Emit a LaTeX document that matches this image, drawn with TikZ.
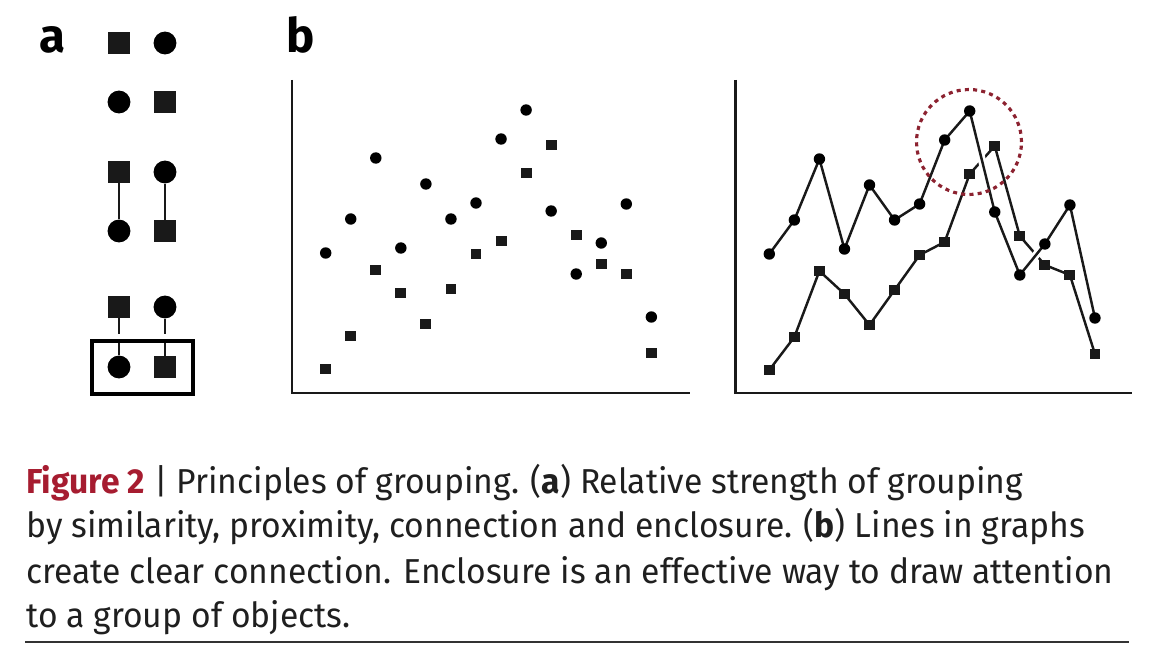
\documentclass[tikz,border=0pt]{standalone}
\usepackage{fontspec}
\setmainfont{Fira Sans}
\newfontfamily\capfont[FakeStretch=0.972]{Fira Sans}
\definecolor{figred}{RGB}{166,28,48}
\definecolor{ringred}{RGB}{140,34,48}
\pgfdeclarelayer{background}
\pgfsetlayers{background,main}

\begin{document}
\begin{tikzpicture}[x=0.02cm,y=-0.02cm,
                    big sq/.style={rectangle,fill=black!90,minimum size=12.5pt,inner sep=0pt},
                    big dot/.style={circle,fill=black,minimum size=13pt,inner sep=0pt},
                    sm sq/.style={rectangle,fill=black!90,minimum size=6.2pt,inner sep=0pt},
                    sm dot/.style={circle,fill=black,minimum size=6.5pt,inner sep=0pt},
                    link/.style={line width=1.5pt,black!90},
                    trace/.style={line width=1.4pt,black!90},
                    halo/.style={white,line width=4.5pt},
                    axis/.style={line width=1.7pt,black!90},
                    panel label/.style={font=\bfseries\fontsize{27}{27}\selectfont,anchor=base west,inner sep=0pt},
                    caption/.style={font=\capfont\fontsize{19.7}{25}\selectfont,text=black!88,anchor=base west,inner sep=0pt}]

  \useasboundingbox (0,0) rectangle (1176,662);

  % panel a
  \node[panel label] (la) at (39,53) {a};
  \node[big sq]  (a1)  at (119,43)  {};
  \node[big dot] (a2)  at (165,43)  {};
  \node[big dot] (a3)  at (119,102) {};
  \node[big sq]  (a4)  at (165,102) {};
  \node[big sq]  (a5)  at (119,172) {};
  \node[big dot] (a6)  at (165,172) {};
  \node[big dot] (a7)  at (119,231) {};
  \node[big sq]  (a8)  at (165,231) {};
  \node[big sq]  (a9)  at (119,307) {};
  \node[big dot] (a10) at (165,307) {};
  \node[big dot] (a11) at (119,367) {};
  \node[big sq]  (a12) at (165,367) {};

  \path[link]
    (a5) edge (a7)
    (a6) edge (a8)
    (a9) edge (a11)
    (a10) edge (a12);

  \draw[white,line width=4.5pt] (92,338) -- (193,338);
  \node[draw,line width=2pt,minimum width=101.5*0.02cm,minimum height=53.5*0.02cm,inner sep=0pt] (encl) at (142.5,367.5) {};

  % panel b
  \node[panel label] (lb) at (286,53) {b};
  \coordinate (o1) at (292,393);
  \coordinate (o2) at (735,393);
  \draw[axis] (292,80) -- (o1) -- (690,393);
  \draw[axis] (735,80) -- (o2) -- (1132,393);

  \foreach \yc/\ys [count=\i from 0] in {253/369,219/336,158/270,248/293,184/324,219/289,203/254,
                                         139/241,110/173,211/145,274/235,243/264,204/274,317/353}{
    \node[sm dot] (sc\i) at ({325.7+25.05*\i},\yc) {};
    \node[sm sq]  (ss\i) at ({325.7+25.05*\i},\ys) {};
    \node[sm dot] (lc\i) at ({769.3+25.05*\i},\yc+1) {};
    \node[sm sq]  (ls\i) at ({769.3+25.05*\i},\ys+1) {};
  }

  \begin{pgfonlayer}{background}
    \draw[trace] (ls0.center) \foreach \i in {1,...,13}{ -- (ls\i.center)};
    \draw[halo] (lc0.center) \foreach \i in {1,...,13}{ -- (lc\i.center)};
    \draw[trace] (lc0.center) \foreach \i in {1,...,13}{ -- (lc\i.center)};
  \end{pgfonlayer}

  % enclosure of the peak
  \draw[ringred,line width=1.8pt,dash pattern=on 2.3pt off 2.4pt] (969,142) circle [radius=1.05cm];

  % caption
  \node[caption] (cap1) at (26,493) {\textcolor{figred}{\bfseries Figure 2} | Principles of grouping. (\textbf{a}) Relative strength of grouping};
  \node[caption] (cap2) at (26,537) {by similarity, proximity, connection and enclosure. (\textbf{b}) Lines in graphs};
  \node[caption] (cap3) at (26,583) {create clear connection. Enclosure is an effective way to draw attention};
  \node[caption] (cap4) at (26,627) {to a group of objects.};
  \draw[line width=0.9pt,black!80] (25,642) -- (1129,642);
\end{tikzpicture}
\end{document}
